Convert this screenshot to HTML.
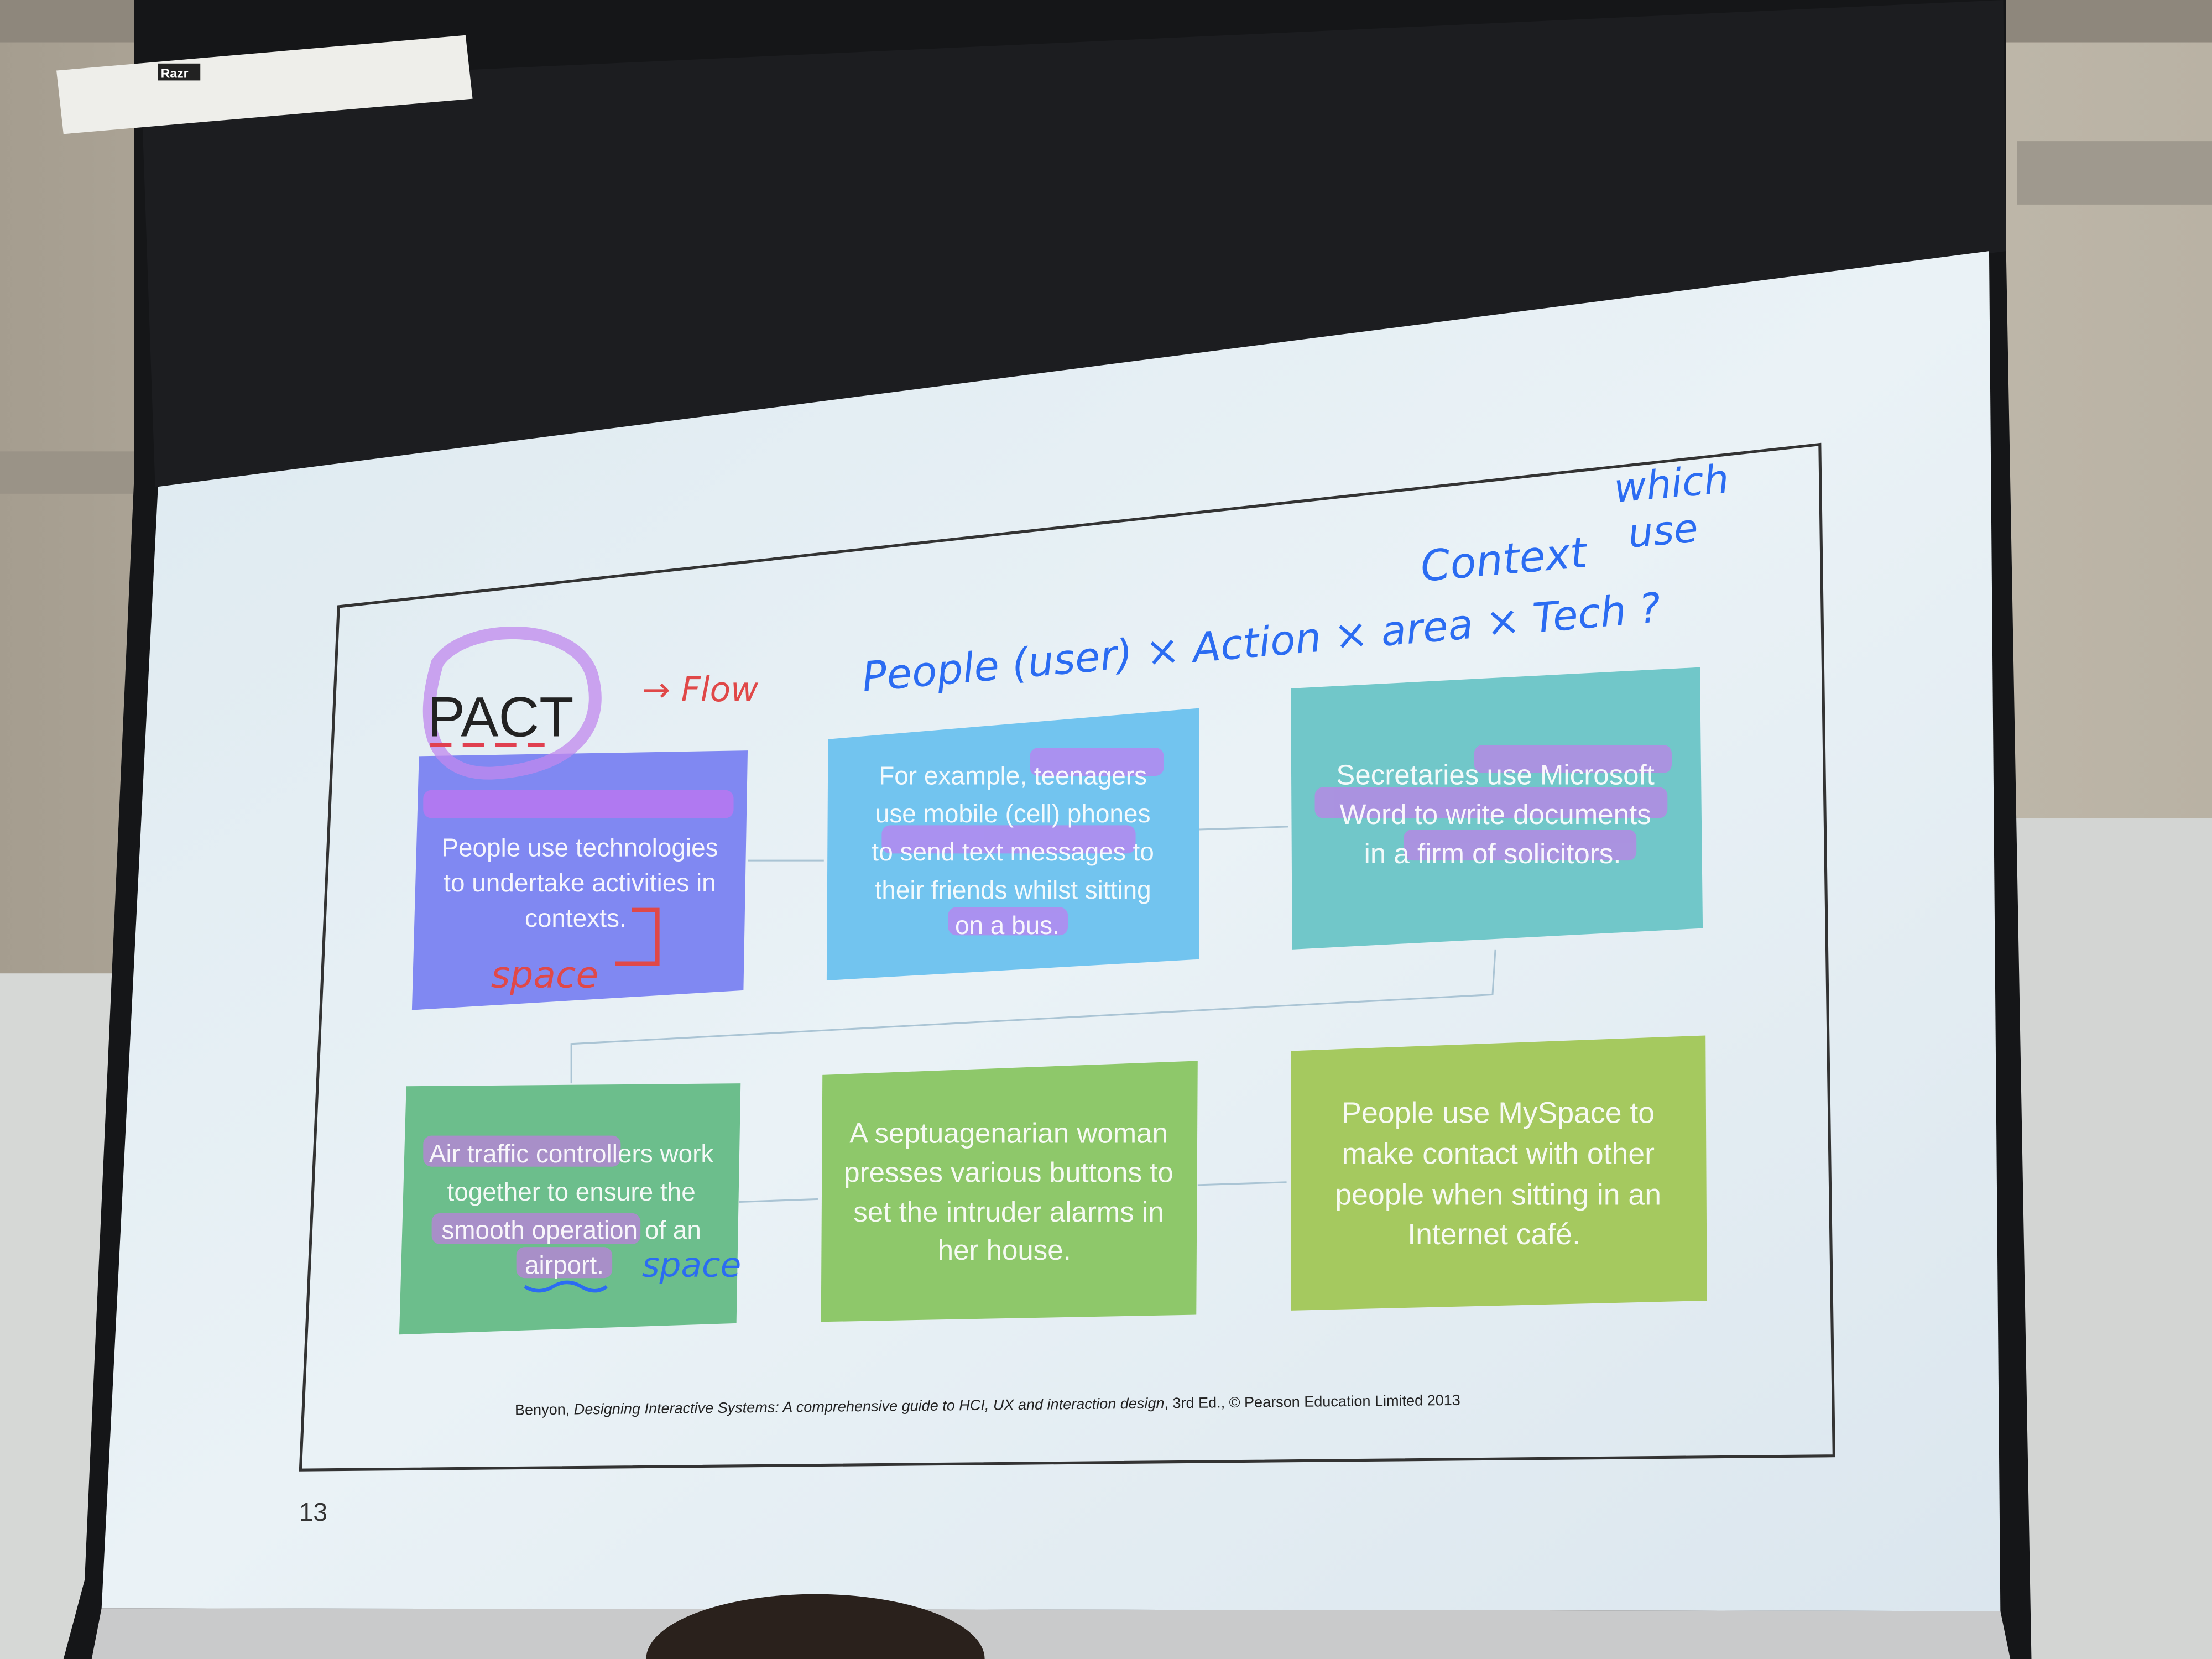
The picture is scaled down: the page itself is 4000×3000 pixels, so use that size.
<!DOCTYPE html>
<html><head><meta charset="utf-8"><style>html,body{margin:0;padding:0;background:#bdb6a8;width:4000px;height:3000px;overflow:hidden;position:relative}svg{display:block;position:absolute;left:0;top:0}</style></head>
<body>
<svg width="4000" height="3000" viewBox="0 0 1568 1176" preserveAspectRatio="none" xmlns="http://www.w3.org/2000/svg" font-family="Liberation Sans, sans-serif" overflow="hidden">
<defs>
<linearGradient id="wall" x1="0" y1="0" x2="1" y2="0"><stop offset="0" stop-color="#a59d8f"/><stop offset="0.5" stop-color="#cfc8ba"/><stop offset="1" stop-color="#b9b2a4"/></linearGradient>
<linearGradient id="scr" x1="0" y1="0" x2="1" y2="1"><stop offset="0" stop-color="#dde9f0"/><stop offset="0.5" stop-color="#eaf2f6"/><stop offset="1" stop-color="#dbe6ee"/></linearGradient>
</defs>
<rect width="1568" height="1176" fill="url(#wall)"/>
<rect x="0" y="0" width="1568" height="30" fill="#8e877c"/>
<rect x="1430" y="100" width="138" height="45" fill="#9f998e"/>
<rect x="1420" y="580" width="148" height="596" fill="#d3d5d3"/>
<rect x="0" y="690" width="80" height="486" fill="#d6d8d6"/>
<rect x="0" y="320" width="100" height="30" fill="#9a9387"/>
<polygon points="95,0 1422,0 1422,175 1440,1176 45,1176 60,1120 95,340" fill="#151618"/>
<polygon points="100,60 1420,0 1422,178 110,345" fill="#1c1d20"/>
<polygon points="40,50 330,25 335,70 45,95" fill="#eeeeea"/>
<rect x="112" y="45" width="30" height="12" fill="#222"/>
<text x="114" y="55" font-size="9" fill="#fff" font-weight="bold">Razr</text>
<polygon points="112,345 1410,178 1418,1142 72,1140" fill="url(#scr)"/>
<polygon points="72,1140 1418,1142 1425,1176 65,1176" fill="#c9cacb"/>
<polygon points="240,430 1290,315 1300,1032 213,1042" fill="none" stroke="#333" stroke-width="2"/>
<g stroke="#aac4d4" stroke-width="1.2" fill="none">
<line x1="530" y1="610" x2="584" y2="610"/>
<line x1="850" y1="588" x2="913" y2="586"/>
<polyline points="1060,673 1058,705 405,740 405,768"/>
<line x1="524" y1="852" x2="580" y2="850"/>
<line x1="849" y1="840" x2="912" y2="838"/>
</g>
<polygon points="297,536 530,532 527,702 292,716" fill="#8088f2"/>
<polygon points="587,524 850,502 850,680 586,695" fill="#72c4ef"/>
<polygon points="915,488 1205,473 1207,658 916,673" fill="#71c7c9"/>
<polygon points="288,770 525,768 522,938 283,946" fill="#6cbe8c"/>
<polygon points="583,762 849,752 848,932 582,937" fill="#8ec86a"/>
<polygon points="915,745 1209,734 1210,922 915,929" fill="#a5c95f"/>
<g fill="#d070f0" opacity="0.6">
<rect x="730" y="530" width="95" height="20" rx="6"/>
<rect x="625" y="585" width="180" height="20" rx="6"/>
<rect x="672" y="643" width="85" height="20" rx="6"/>
<rect x="1045" y="528" width="140" height="20" rx="6"/>
<rect x="932" y="558" width="250" height="22" rx="6"/>
<rect x="995" y="588" width="165" height="22" rx="6"/>
<rect x="300" y="805" width="140" height="22" rx="6"/>
<rect x="306" y="860" width="148" height="22" rx="6"/>
<rect x="366" y="884" width="68" height="22" rx="6"/>
<rect x="300" y="560" width="220" height="20" rx="6"/>
</g>
<path d="M310,470 C330,440 410,440 420,480 C430,520 400,545 350,548 C310,550 295,520 310,470 Z" fill="none" stroke="#c088ee" stroke-width="9" opacity="0.75"/>
<text x="303" y="522" font-size="40" fill="#222">PACT</text>
<path d="M305,528 l15,0 m8,0 l15,0 m8,0 l15,0 m8,0 l12,0" stroke="#e04050" stroke-width="2.5"/>
<g fill="#ffffff" font-size="18" text-anchor="middle" opacity="0.92">
<text x="411" y="607">People use technologies</text>
<text x="411" y="632">to undertake activities in</text>
<text x="408" y="657">contexts.</text>
<text x="718" y="556">For example, teenagers</text>
<text x="718" y="583">use mobile (cell) phones</text>
<text x="718" y="610">to send text messages to</text>
<text x="718" y="637">their friends whilst sitting</text>
<text x="714" y="662">on a bus.</text>
<text x="1060" y="556" font-size="20">Secretaries use Microsoft</text>
<text x="1060" y="584" font-size="20">Word to write documents</text>
<text x="1058" y="612" font-size="20">in a firm of solicitors.</text>
<text x="405" y="824">Air traffic controllers work</text>
<text x="405" y="851">together to ensure the</text>
<text x="405" y="878">smooth operation of an</text>
<text x="400" y="903">airport.</text>
<text x="715" y="810" font-size="20">A septuagenarian woman</text>
<text x="715" y="838" font-size="20">presses various buttons to</text>
<text x="715" y="866" font-size="20">set the intruder alarms in</text>
<text x="712" y="893" font-size="20">her house.</text>
<text x="1062" y="796" font-size="21">People use MySpace to</text>
<text x="1062" y="825" font-size="21">make contact with other</text>
<text x="1062" y="854" font-size="21">people when sitting in an</text>
<text x="1059" y="882" font-size="21">Internet café.</text>
</g>
<g font-style="italic" font-family="DejaVu Sans, sans-serif">
<text x="455" y="497" font-size="24" fill="#e04848">→ Flow</text>
<text x="348" y="700" font-size="26" fill="#e04848">space</text>
<path d="M448,645 l18,0 l0,38 l-30,0" stroke="#e04848" stroke-width="3" fill="none"/>
<text x="455" y="905" font-size="24" fill="#2b6cf2">space</text>
<path d="M372,912 q10,6 20,0 q10,-6 20,0 q10,6 18,0" stroke="#2b6cf2" stroke-width="2.5" fill="none"/>
<text x="612" y="490" font-size="29" fill="#2b6cf2" transform="rotate(-5 612 490)">People (user) × Action × area × Tech ?</text>
<text x="1008" y="412" font-size="30" fill="#2b6cf2" transform="rotate(-5 1008 412)">Context</text>
<text x="1145" y="356" font-size="28" fill="#2b6cf2" transform="rotate(-5 1145 356)">which</text>
<text x="1155" y="388" font-size="28" fill="#2b6cf2" transform="rotate(-5 1155 388)">use</text>
</g>
<text x="365" y="1003" font-size="10.6" fill="#222" transform="rotate(-0.6 365 1003)">Benyon, <tspan font-style="italic">Designing Interactive Systems: A comprehensive guide to HCI, UX and interaction design</tspan>, 3rd Ed., © Pearson Education Limited 2013</text>
<text x="212" y="1078" font-size="18" fill="#333">13</text>
<path d="M458,1176 A120,46 0 0 1 698,1176 Z" fill="#2a211c"/>
</svg>
</body></html>
